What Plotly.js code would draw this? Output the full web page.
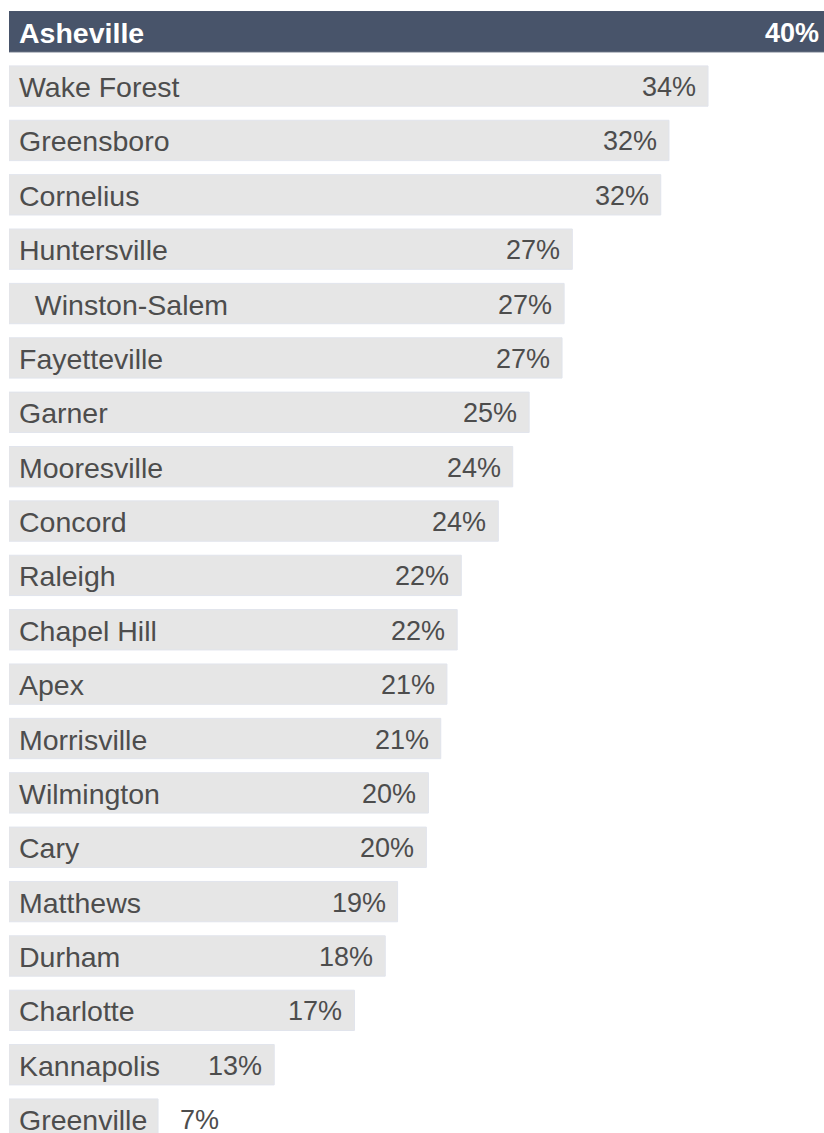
<!DOCTYPE html>
<html>
<head>
<meta charset="utf-8">
<script src="https://cdn.plot.ly/plotly-3.0.1.min.js"></script>
<style>
  html, body { margin: 0; padding: 0; background: #ffffff; overflow: hidden; width: 824px; height: 1133px; }
  #chart { width: 860px; height: 1160px; }
</style>
</head>
<body>
<div id="chart"></div>
<script>
// ---- data ----
const cities = ["Asheville", "Wake Forest", "Greensboro", "Cornelius", "Huntersville",
  "\u00a0\u00a0Winston-Salem", "Fayetteville", "Garner", "Mooresville", "Concord", "Raleigh",
  "Chapel Hill", "Apex", "Morrisville", "Wilmington", "Cary", "Matthews", "Durham",
  "Charlotte", "Kannapolis", "Greenville"];
const values = [40.0, 34.0, 32.1, 31.7, 27.4, 27.0, 26.9, 25.3, 24.5, 23.8, 22.0,
  21.8, 21.3, 21.0, 20.4, 20.3, 18.9, 18.3, 16.8, 12.9, 7.25];
const valueLabels = ["40%", "34%", "32%", "32%", "27%", "27%", "27%", "25%", "24%", "24%", "22%",
  "22%", "21%", "21%", "20%", "20%", "19%", "18%", "17%", "13%", "7%"];
const highlight = "Asheville";

// ---- layout geometry ----
const W = 860, H = 1160;
const leftMargin = 9;
const pxPerUnit = 20.56;
const pitch = 54.37;
const firstCenter = 31.7;
const plotW = W - leftMargin;
const xMax = plotW / pxPerUnit;
const yTop = -firstCenter / pitch;
const yBottom = yTop + H / pitch;

const ids = cities.map((c, i) => i);
const barColors = cities.map(c => c === highlight ? "#48546a" : "#e6e6e6");
const lineColors = cities.map(c => c === highlight ? "#48546a" : "#e1e4ec");

const trace = {
  type: "bar",
  orientation: "h",
  x: values,
  y: ids,
  width: 0.742,
  marker: { color: barColors, line: { color: lineColors, width: 1 } },
  hoverinfo: "none",
  showlegend: false
};

const textColor = "#4d4d4d";
const fontFam = "'Liberation Sans', Arial, sans-serif";
const annotations = [];
cities.forEach((c, i) => {
  const hi = c === highlight;
  annotations.push({
    x: 0, y: i, xref: "x", yref: "y",
    text: hi ? "<b>" + c + "</b>" : c,
    xanchor: "left", yanchor: "middle", xshift: 8, yshift: -1,
    showarrow: false,
    font: { family: fontFam, size: 28.5, color: hi ? "#ffffff" : textColor }
  });
  const outside = values[i] < 10;
  annotations.push({
    x: values[i], y: i, xref: "x", yref: "y",
    text: hi ? "<b>" + valueLabels[i] + "</b>" : valueLabels[i],
    xanchor: outside ? "left" : "right", yanchor: "middle",
    xshift: outside ? 20 : -10, yshift: -1,
    showarrow: false,
    font: { family: fontFam, size: 27, color: hi ? "#ffffff" : textColor }
  });
});

const layout = {
  width: W, height: H,
  margin: { l: leftMargin, r: 0, t: 0, b: 0, pad: 0 },
  paper_bgcolor: "#ffffff",
  plot_bgcolor: "#ffffff",
  xaxis: { range: [0, xMax], visible: false, showgrid: false, zeroline: false, fixedrange: true },
  yaxis: { range: [yBottom, yTop], visible: false, showgrid: false, zeroline: false, fixedrange: true },
  annotations: annotations,
  bargap: 0
};

Plotly.newPlot("chart", [trace], layout, { displayModeBar: false, staticPlot: true });
</script>
</body>
</html>
